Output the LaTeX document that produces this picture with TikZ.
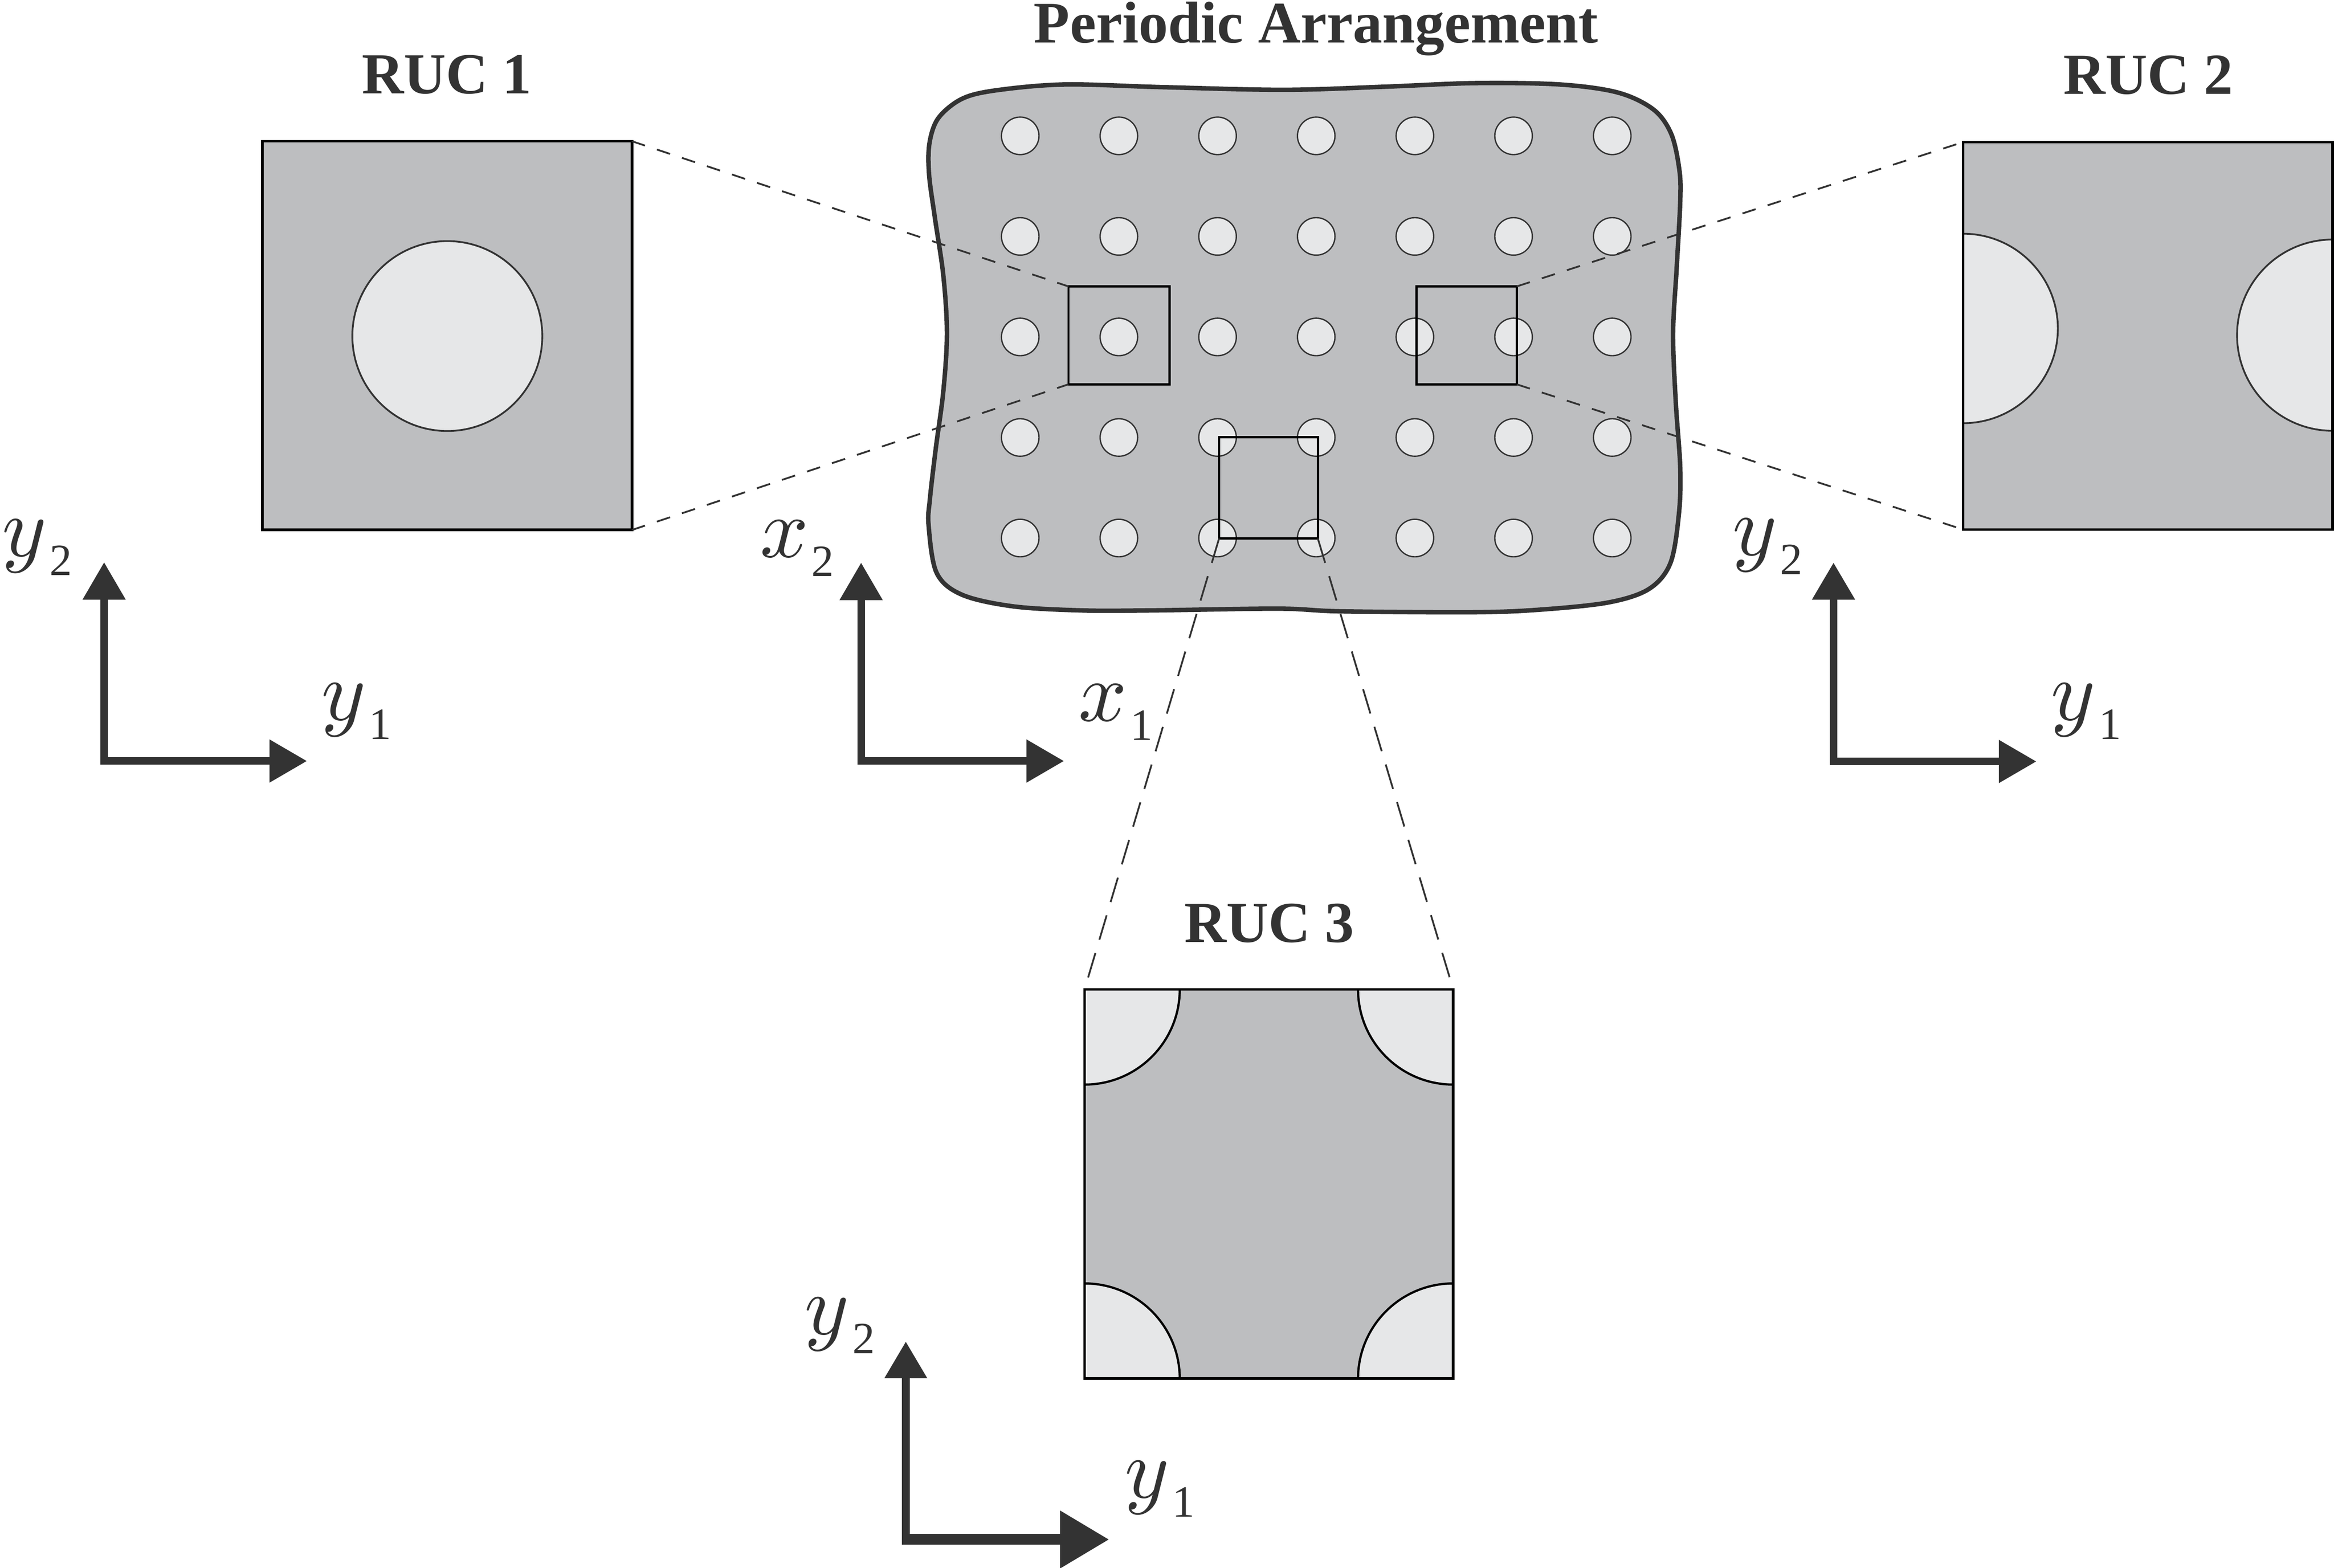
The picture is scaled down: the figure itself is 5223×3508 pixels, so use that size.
\documentclass[tikz,border=0pt]{standalone}
\usepackage{fontspec}
\setmainfont{Liberation Serif}
\usetikzlibrary{arrows.meta}
\definecolor{matrixgray}{HTML}{BDBEC0}
\definecolor{fibergray}{HTML}{E6E7E8}
\definecolor{inkgray}{HTML}{333333}
\newcommand{\axlbl}[2]{\scalebox{5.4}{$#1$}\kern 2pt\raisebox{-12.2pt}{\fontsize{28.5}{30}\selectfont #2}}
\tikzset{
  ttl/.style={font=\fontsize{37}{40}\selectfont\bfseries, text=inkgray, inner sep=0pt},
  axlab/.style={text=inkgray, inner sep=0pt, anchor=base west, font=\fontsize{10}{12}\selectfont},
  rucfill/.style={fill=matrixgray, draw=none, inner sep=0pt, outer sep=0pt, minimum width=82.7mm},
  rucline/.style={draw=black, line width=0.6mm},
  winbox/.style={draw=black, line width=0.5mm, inner sep=0pt, outer sep=0pt},
  fib/.style={fill=fibergray, draw=inkgray, line width=0.4mm},
  smallfib/.style={fill=fibergray, draw=inkgray, line width=0.3mm},
  blobline/.style={fill=matrixgray, draw=inkgray, line width=1.0mm},
  dashA/.style={draw=inkgray, line width=0.4mm, dash pattern=on 3.1mm off 2.8mm},
  dashB/.style={draw=inkgray, line width=0.4mm, dash pattern=on 5.7mm off 3.1mm},
  axisline/.style={draw=inkgray, line width=1.7mm, line join=miter},
}
\begin{document}
\begin{tikzpicture}[x=0.1mm, y=-0.1mm]
\useasboundingbox (0,0) rectangle (5223,3508);

% ---------- titles ----------
\node[ttl, anchor=base, font=\fontsize{37.5}{40}\selectfont\bfseries] (title) at (2945,96) {Periodic Arrangement};
\node[ttl, anchor=base] (lab1) at (1000,209) {RUC 1};
\node[ttl, anchor=base] (lab2) at (4807,210) {RUC 2};
\node[ttl, anchor=base] (lab3) at (2840,2109) {RUC 3};

% ---------- periodic arrangement ----------
\draw[blobline] plot[smooth cycle, tension=0.55] coordinates {
 (2153,221) (2230,202) (2383,189) (2600,195) (2873,201) (3100,194) (3300,186)
 (3490,189) (3620,207) (3700,245) (3740,300) (3758,380) (3760,450) (3752,600)
 (3744,746) (3750,900) (3760,1047) (3757,1150) (3738,1260) (3690,1318) (3600,1348)
 (3450,1364) (3300,1370) (3000,1368) (2860,1362) (2574,1366) (2421,1366) (2268,1357)
 (2153,1331) (2096,1282) (2078,1176) (2081,1116) (2094,1004) (2111,875) (2119,746)
 (2111,617) (2092,487) (2079,390) (2080,320) (2100,264)};
\foreach \i in {0,...,6}{
  \foreach \j in {0,...,4}{
    \draw[smallfib] (2283+220.8*\i, 304+225*\j) circle[radius=4.2mm];
  }
}
\node[winbox, minimum width=22.6mm, minimum height=21.9mm] (w1) at (2504,750.5) {};
\node[winbox, minimum width=22.4mm, minimum height=21.9mm] (w2) at (3282,750.5) {};
\node[winbox, minimum width=22.1mm, minimum height=22.7mm] (w3) at (2838.5,1091.5) {};

% ---------- RUC 1 ----------
\node[rucfill, minimum height=87mm] (ruc1) at (1000.5,751) {};
\begin{scope}
  \clip (ruc1.north west) rectangle (ruc1.south east);
  \draw[fib] (1001,752) circle[radius=21.25mm];
\end{scope}
\draw[rucline] (ruc1.north west) rectangle (ruc1.south east);

% ---------- RUC 2 ----------
\node[rucfill, minimum height=86.7mm] (ruc2) at (4806.5,751.5) {};
\begin{scope}
  \clip (ruc2.north west) rectangle (ruc2.south east);
  \draw[fib] (4393,735) circle[radius=21.2mm];
  \draw[fib] (5220,750) circle[radius=21.4mm];
\end{scope}
\draw[rucline] (ruc2.north west) rectangle (ruc2.south east);

% ---------- RUC 3 ----------
\node[rucfill, minimum width=82.5mm, minimum height=87.1mm] (ruc3) at (2839.5,2649.5) {};
\begin{scope}
  \clip (ruc3.north west) rectangle (ruc3.south east);
  \draw[fib, draw=black, line width=0.5mm] (ruc3.north west) circle[radius=21.3mm];
  \draw[fib, draw=black, line width=0.5mm] (ruc3.north east) circle[radius=21.3mm];
  \draw[fib, draw=black, line width=0.5mm] (ruc3.south west) circle[radius=21.3mm];
  \draw[fib, draw=black, line width=0.5mm] (ruc3.south east) circle[radius=21.3mm];
\end{scope}
\draw[rucline] (ruc3.north west) rectangle (ruc3.south east);

% ---------- zoom connectors ----------
\draw[dashA] (ruc1.north east) -- (w1.north west);
\draw[dashA] (ruc1.south east) -- (w1.south west);
\draw[dashA, shorten >=1.3mm] (w2.north east) -- (ruc2.north west);
\draw[dashA, shorten >=1.3mm] (w2.south east) -- (ruc2.south west);
\draw[dashB, shorten >=2mm] (w3.south west) -- (ruc3.north west);
\draw[dashB, shorten >=2mm] (w3.south east) -- (ruc3.north east);

% ---------- axes ----------
\coordinate (a1y) at (233,1258);  \coordinate (a1x) at (687,1703);
\coordinate (a2y) at (1927,1259); \coordinate (a2x) at (2381,1703);
\coordinate (a3y) at (4103,1259); \coordinate (a3x) at (4557,1704);
\draw[axisline, {Triangle[length=8.4mm,width=9.2mm]}-{Triangle[length=8.4mm,width=9.2mm]}] (a1y) |- (a1x);
\draw[axisline, {Triangle[length=8.4mm,width=9.2mm]}-{Triangle[length=8.4mm,width=9.2mm]}] (a2y) |- (a2x);
\draw[axisline, {Triangle[length=8.3mm,width=9.2mm]}-{Triangle[length=8.4mm,width=9.2mm]}] (a3y) |- (a3x);
\coordinate (a4y) at (2027,3002); \coordinate (a4b) at (2027,3457);
\coordinate (a4o) at (2019,3445); \coordinate (a4x) at (2482,3445);
\draw[axisline, -{Triangle[length=8.2mm,width=9.1mm]}] (a4b) -- (a4y);
\draw[axisline, line width=2.4mm, -{Triangle[length=11mm,width=12.3mm]}] (a4o) -- (a4x);

% ---------- axis labels ----------
\node[axlab] (l1y2) at (4,1245) {\axlbl{y}{2}};
\node[axlab] (l1y1) at (718,1611) {\axlbl{y}{1}};
\node[axlab] (l2x2) at (1700,1247) {\axlbl{x}{2}};
\node[axlab] (l2x1) at (2413,1613) {\axlbl{x}{1}};
\node[axlab] (l3y2) at (3876,1243) {\axlbl{y}{2}};
\node[axlab] (l3y1) at (4589,1611) {\axlbl{y}{1}};
\node[axlab] (l4y2) at (1800,2986) {\axlbl{y}{2}};
\node[axlab] (l4y1) at (2516,3352) {\axlbl{y}{1}};
\end{tikzpicture}
\end{document}
